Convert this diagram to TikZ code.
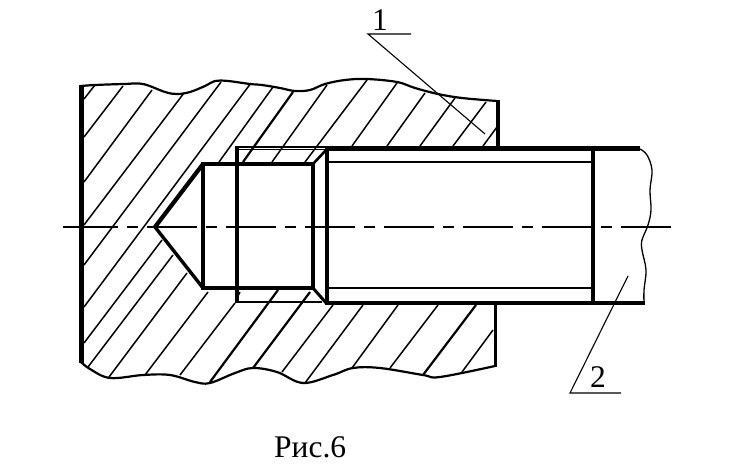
\documentclass[tikz,border=0pt]{standalone}
\usepackage{fontspec}
\setmainfont{Liberation Serif}
\tikzset{
  thickline/.style={line width=4.4pt,line cap=butt},
  threadline/.style={line width=2.6pt},
  wave/.style={line width=2.2pt,line join=round},
  hatchline/.style={line width=1.5pt},
  hatchthick/.style={line width=2.2pt},
  thinline/.style={line width=1.1pt},
  axisline/.style={line width=1.5pt},
  label/.style={font=\fontsize{31.5}{32}\selectfont,inner sep=0pt,anchor=base}
}
\begin{document}
\begin{tikzpicture}[x=1pt,y=-1pt]
\useasboundingbox (0,0) rectangle (733,476);
% hatching
\foreach \a/\b/\c/\d in {95/85/84/99,123/86/84/137,152/90/84/182,184/93/84/225,221/82/84/265,251/83/84/307,
 162/240/84/343,173/255/88/367,187/273/109/377,208/292/145/375,235/303/180/375,240/292/236/300,
 333/305/282/372,363/305/305/383,398/305/352/368,438/305/390/368,493/330/462/372,
 273/87/219/162,327/85/272/162,367/80/305/162,397/83/352/146,425/93/387/146,455/98/420/146,486/102/453/146,497/127/483/146}
  \draw[hatchline] (\a,\b) -- (\c,\d);
\foreach \a/\b/\c/\d in {293/92/243/162,278/290/210/382,310/292/253/368,476/305/423/375}
  \draw[hatchthick] (\a,\b) -- (\c,\d);
% wavy outlines
\draw[wave] plot[smooth,tension=0.6] coordinates {(81,86)(95,85)(124,84)(143,84)(165,92)(177,94)(190,92)(205,86)(215,81)(228,81)(250,84)(262,85)(280,88)(295,91)(310,90)(325,84)(345,80)(367,79)(397,82)(415,88)(438,94)(462,98)(497,101)};
\draw[wave] plot[smooth,tension=0.6] coordinates {(81,362)(90,369)(110,378)(143,375)(170,375)(195,382)(210,383)(235,373)(253,368)(277,372)(303,383)(333,375)(353,368)(380,368)(423,375)(440,377)(495,366)};
\draw[line width=1.3pt] plot[smooth,tension=0.6] coordinates {(640,149)(647,155)(652,170)(650,190)(651,210)(648,225)(642,240)(642,250)(646,270)(644,290)(644,303)};
% thin groove rectangle
\draw[thinline] (236,149.6) -- (327,149.6);
\draw[line width=1.6pt] (236,146.8) -- (327,146.8);
\draw[line width=2.4pt] (236,302) -- (322,302);
% hole
\draw[line width=4.2pt,line join=round] (155,227) -- (203,164);
\draw[line width=3.4pt,line join=round] (155,227) -- (203,288);
\draw[thickline] (203,162) -- (203,290);
\draw[thickline] (201,164) -- (315,164);
\draw[thickline] (201,288) -- (315,288);
\draw[thickline] (313,162) -- (313,290);
\draw[thickline] (236.7,146) -- (236.7,303);
\draw[line width=3.8pt] (327,146) -- (327,305);
\draw[line width=2.6pt] (313,164) -- (327,149);
\draw[line width=3pt] (313,288) -- (327,304);
% body edges
\draw[line width=4.4pt] (81.5,85) -- (81.5,363);
\draw[thickline] (498,100) -- (498,150);
\draw[line width=3pt] (495,303) -- (495,367);
% screw
\draw[thickline] (327,148.5) -- (640,148.5);
\draw[thickline] (326,303) -- (645,303);
\draw[threadline] (327,162) -- (592,162);
\draw[threadline] (327,288) -- (592,288);
\draw[line width=4.6pt] (593,147) -- (593,305);
% axis
\coordinate (axisA) at (63,227);
\coordinate (axisB) at (68,227);
\coordinate (axisC) at (672,227);
\draw[axisline] (axisA) -- (axisB);
\draw[axisline,dash pattern=on 50pt off 9pt on 11pt off 9pt] (axisB) -- (axisC);
% leaders
\node[label] (labelOne) at (380,31) {1};
\node[label] (labelTwo) at (598,387) {2};
\node[label,anchor=base west] (caption) at (274,457) {Рис.6};
\coordinate (shelfOneA) at (368,34);
\coordinate (shelfOneB) at (411,34);
\coordinate (tipOne) at (485,134);
\coordinate (shelfTwoA) at (570,393);
\coordinate (shelfTwoB) at (621,393);
\coordinate (tipTwo) at (628,276);
\draw[thinline] (shelfOneB) -- (shelfOneA) -- (tipOne);
\draw[thinline] (shelfTwoB) -- (shelfTwoA) -- (tipTwo);
\end{tikzpicture}
\end{document}
